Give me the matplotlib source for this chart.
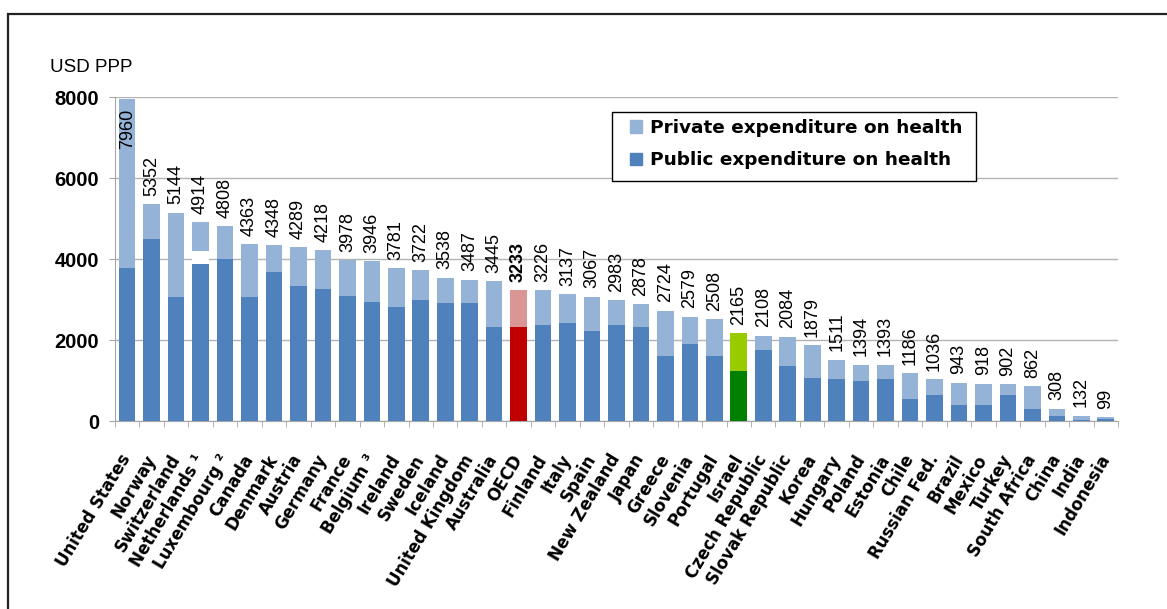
import numpy as np
import matplotlib
matplotlib.use("Agg")
import matplotlib.pyplot as plt
from matplotlib.patches import Rectangle, Patch

plt.rcParams['font.family'] = ['Liberation Sans', 'DejaVu Sans']

# Health expenditure per capita, USD PPP
countries = ["United States", "Norway", "Switzerland", "Netherlands \u00b9", "Luxembourg \u00b2",
             "Canada", "Denmark", "Austria", "Germany", "France", "Belgium \u00b3", "Ireland",
             "Sweden", "Iceland", "United Kingdom", "Australia", "OECD", "Finland", "Italy",
             "Spain", "New Zealand", "Japan", "Greece", "Slovenia", "Portugal", "Israel",
             "Czech Republic", "Slovak Republic", "Korea", "Hungary", "Poland", "Estonia",
             "Chile", "Russian Fed.", "Brazil", "Mexico", "Turkey", "South Africa", "China",
             "India", "Indonesia"]
total = [7960, 5352, 5144, 4914, 4808, 4363, 4348, 4289, 4218, 3978, 3946, 3781,
         3722, 3538, 3487, 3445, 3233, 3226, 3137, 3067, 2983, 2878, 2724, 2579, 2508,
         2165, 2108, 2084, 1879, 1511, 1394, 1393, 1186, 1036, 943, 918, 902, 862,
         308, 132, 99]
public = [3780, 4490, 3060, 3873, 4000, 3060, 3676, 3330, 3257, 3084, 2936, 2812,
          2988, 2922, 2922, 2321, 2321, 2370, 2420, 2222, 2370, 2321, 1605, 1901, 1605,
          1235, 1753, 1358, 1062, 1037, 988, 1037, 543, 642, 395, 395, 642, 296,
          130, 25, 50]
# Netherlands: part of spending not split into public/private
unallocated = [0] * len(countries)
unallocated[3] = 321

oecd_idx = countries.index("OECD")
israel_idx = countries.index("Israel")

total = np.array(total)
public = np.array(public)
unallocated = np.array(unallocated)
private = total - public - unallocated

pub_col = ['#4F81BD'] * len(countries)
priv_col = ['#95B3D7'] * len(countries)
pub_col[oecd_idx], priv_col[oecd_idx] = '#C00000', '#DA9694'
pub_col[israel_idx], priv_col[israel_idx] = '#008000', '#99CC00'

fig = plt.figure(figsize=(11.67, 6.09), dpi=100)
ax = fig.add_axes([0.0985, 0.3087, 0.8595, 0.532])

x = np.arange(len(countries))
w = 0.68
ax.bar(x, public, width=w, color=pub_col, zorder=3)
ax.bar(x, unallocated, width=w, bottom=public, color='white', zorder=3)
ax.bar(x, private, width=w, bottom=public + unallocated, color=priv_col, zorder=3)

# value labels on top of each bar (inside for the tallest one)
for i, v in enumerate(total):
    bold = 'bold' if i == oecd_idx else 'normal'
    if i == 0:
        ax.annotate(str(v), (i, v), xytext=(0, -7), textcoords='offset points',
                    rotation=90, ha='center', va='top', fontsize=13, fontweight=bold)
    else:
        ax.annotate(str(v), (i, v), xytext=(0, 6), textcoords='offset points',
                    rotation=90, ha='center', va='bottom', fontsize=13, fontweight=bold)

ax.set_xlim(-0.5, len(countries) - 0.5)
ax.set_ylim(0, 8000)
ax.set_yticks([0, 2000, 4000, 6000, 8000])
ax.set_yticklabels(['0', '2000', '4000', '6000', '8000'], fontsize=14.5, fontweight='bold')
ax.yaxis.grid(True, color='#b3b3b3', lw=1, zorder=0)
ax.tick_params(axis='y', length=4, color='#a6a6a6', pad=7.5)

ax.set_xticks(x)
ax.set_xticklabels(countries, rotation=59, ha='right', va='center',
                   rotation_mode='anchor', fontsize=12, fontweight='bold',
                   family=['DejaVu Sans'])
ax.tick_params(axis='x', which='major', length=0, pad=25)
ax.set_xticks(np.arange(-0.5, len(countries)), minor=True)
ax.tick_params(axis='x', which='minor', length=4, color='#a6a6a6')

for s in ['top', 'right']:
    ax.spines[s].set_visible(False)
for s in ['left', 'bottom']:
    ax.spines[s].set_color('#a6a6a6')

# legend box drawn separately so its padding can be set freely
ax.add_patch(Rectangle((0.4955, 0.7407), 0.3629, 0.213, transform=ax.transAxes,
                       facecolor='white', edgecolor='black', lw=1, zorder=5))
handles = [Patch(color='#95B3D7', label='Private expenditure on health'),
           Patch(color='#4F81BD', label='Public expenditure on health')]
leg = ax.legend(handles=handles, loc='upper left', bbox_to_anchor=(0.5135, 0.932),
                borderaxespad=0, borderpad=0, frameon=False,
                handlelength=0.65, handleheight=0.65, handletextpad=0.45,
                prop={'weight': 'bold', 'size': 13.3, 'family': 'DejaVu Sans'},
                labelspacing=0.78)
leg.set_zorder(6)

fig.text(50 / 1167, 1 - 68 / 609, 'USD PPP', fontsize=13.5, va='center')

# outer frame
fig.patches.append(Rectangle((8 / 1167, -0.1), 1.2, 1.1 - 14 / 609, transform=fig.transFigure,
                             fill=False, lw=1.6, ec='#222222'))

fig.savefig('out.png', dpi=100)
